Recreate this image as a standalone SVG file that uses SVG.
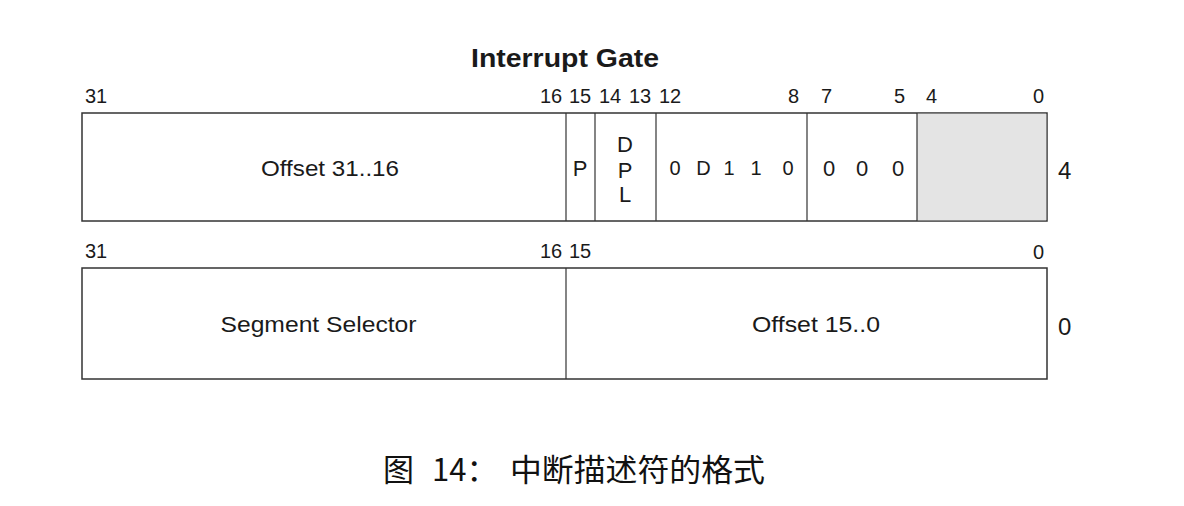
<svg xmlns="http://www.w3.org/2000/svg" width="1184" height="506" viewBox="0 0 1184 506">
<style>
.t{font-family:"Liberation Sans",Arial,sans-serif;fill:#1a1a1a}
.b{font-size:20px}
.f{font-size:22px}
.box{fill:#fff;stroke:#333;stroke-width:1.5}
.div{stroke:#333;stroke-width:1.2}
.cap{font-family:"Noto Sans CJK SC",sans-serif;font-size:31px;fill:#111}
</style>
<rect width="1184" height="506" fill="#fff"/>
<text class="t" x="565" y="67" font-size="25" font-weight="bold" text-anchor="middle" textLength="188" lengthAdjust="spacingAndGlyphs">Interrupt Gate</text>
<g id="top-bits" class="t b">
<text x="85" y="103">31</text>
<text x="540" y="103">16</text>
<text x="569" y="103">15</text>
<text x="599" y="103">14</text>
<text x="629" y="103">13</text>
<text x="659" y="103">12</text>
<text x="788" y="103">8</text>
<text x="821" y="103">7</text>
<text x="894" y="103">5</text>
<text x="926" y="103">4</text>
<text x="1033" y="103">0</text>
</g>
<g id="word4">
<rect class="box" x="82" y="113" width="965" height="108"/>
<rect x="917" y="113.75" width="129.25" height="106.5" fill="#e4e4e4"/>
<line class="div" x1="566" y1="113" x2="566" y2="221"/>
<line class="div" x1="595" y1="113" x2="595" y2="221"/>
<line class="div" x1="656" y1="113" x2="656" y2="221"/>
<line class="div" x1="807" y1="113" x2="807" y2="221"/>
<line class="div" x1="917" y1="113" x2="917" y2="221"/>
<g class="t f" text-anchor="middle">
<text x="330" y="176" textLength="138" lengthAdjust="spacingAndGlyphs">Offset 31..16</text>
<text x="580" y="176">P</text>
<text x="625" y="152">D</text>
<text x="625" y="178">P</text>
<text x="625" y="202">L</text>
<text x="675" y="175" font-size="20">0</text>
<text x="703.5" y="175" font-size="20">D</text>
<text x="729" y="175" font-size="20">1</text>
<text x="756" y="175" font-size="20">1</text>
<text x="788" y="175" font-size="20">0</text>
<text x="829" y="176">0</text>
<text x="862" y="176">0</text>
<text x="898" y="176">0</text>
</g>
<text class="t" x="1058" y="179" font-size="24">4</text>
</g>
<g id="bottom-bits" class="t b">
<text x="85" y="258">31</text>
<text x="540" y="258">16</text>
<text x="569" y="258">15</text>
<text x="1033" y="259">0</text>
</g>
<g id="word0">
<rect class="box" x="82" y="268" width="965" height="111"/>
<line class="div" x1="566" y1="268" x2="566" y2="379"/>
<g class="t f" text-anchor="middle">
<text x="318.5" y="332" textLength="196" lengthAdjust="spacingAndGlyphs">Segment Selector</text>
<text x="816" y="332" textLength="128" lengthAdjust="spacingAndGlyphs">Offset 15..0</text>
</g>
<text class="t" x="1058" y="335" font-size="24">0</text>
</g>
<g id="caption">
<text class="cap" x="383" y="481">图</text>
<text class="cap" x="432" y="481">14：</text>
<text class="cap" x="510" y="481" textLength="255" lengthAdjust="spacingAndGlyphs">中断描述符的格式</text>
</g>
</svg>
